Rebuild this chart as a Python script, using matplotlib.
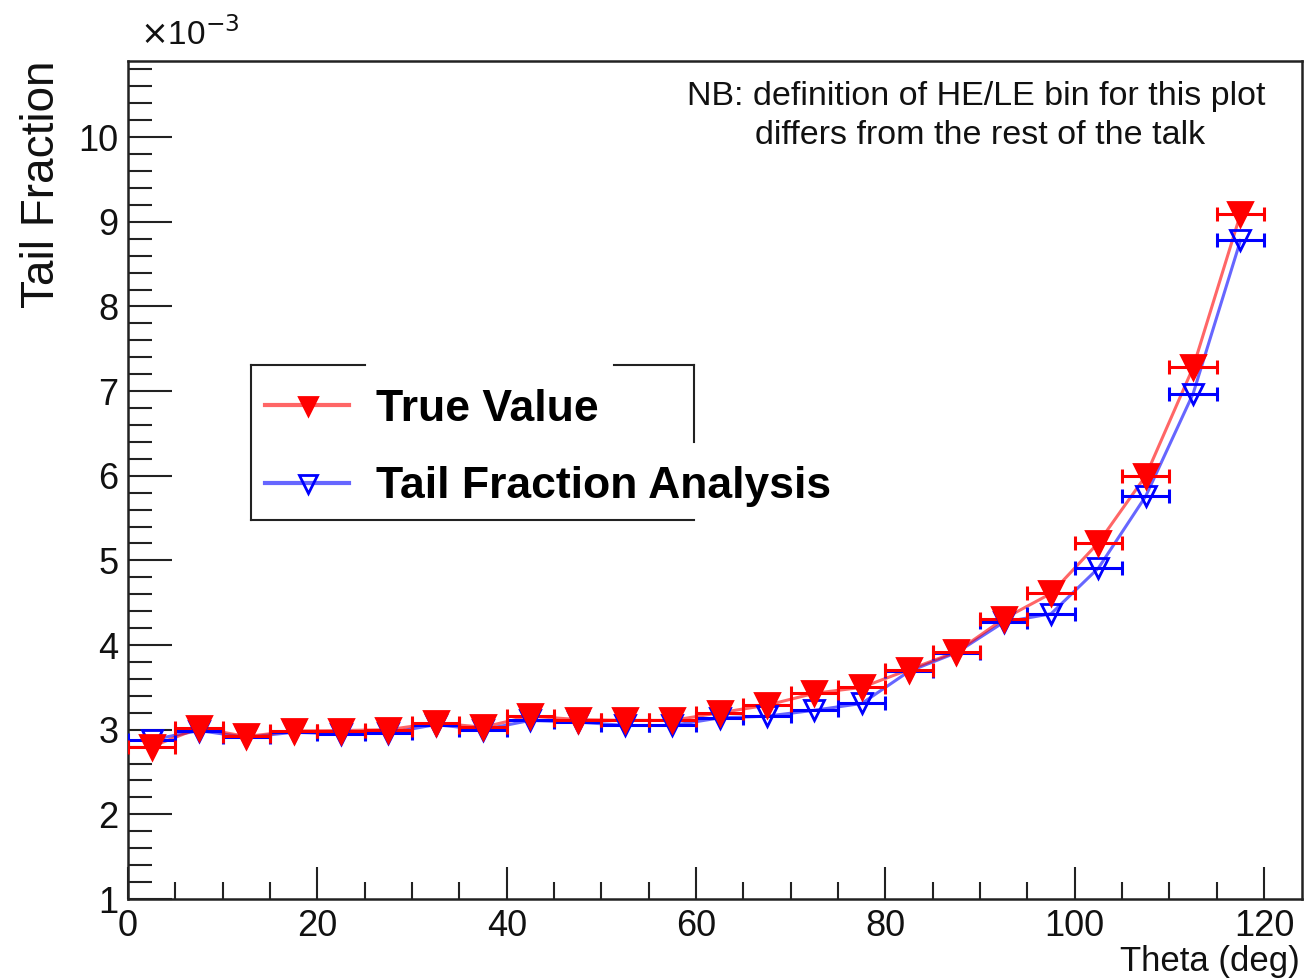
"""
Tail fraction vs theta: true value compared with the tail fraction analysis.
ROOT-style look (inward ticks on left/bottom only, x errors = half bin width).
"""
import matplotlib
matplotlib.use("Agg")
import matplotlib.pyplot as plt
from matplotlib.lines import Line2D
from matplotlib.ticker import MultipleLocator, FormatStrFormatter

plt.rcParams["font.family"] = ["Liberation Sans", "DejaVu Sans"]

# bin centres (deg), bin half-width 2.5 deg
theta = [2.5, 7.5, 12.5, 17.5, 22.5, 27.5, 32.5, 37.5, 42.5, 47.5, 52.5, 57.5,
         62.5, 67.5, 72.5, 77.5, 82.5, 87.5, 92.5, 97.5, 102.5, 107.5, 112.5, 117.5]
theta_err = [2.5] * len(theta)

# tail fraction, units of 1e-3
true_value = [2.80, 3.02, 2.92, 2.985, 2.99, 3.00, 3.08, 3.03, 3.16, 3.12, 3.11, 3.11,
              3.20, 3.29, 3.43, 3.50, 3.71, 3.92, 4.31, 4.61, 5.21, 6.00, 7.28, 9.09]
tf_analysis = [2.88, 2.99, 2.91, 2.97, 2.95, 2.96, 3.06, 3.00, 3.11, 3.09, 3.05, 3.05,
               3.14, 3.16, 3.23, 3.31, 3.69, 3.91, 4.27, 4.37, 4.91, 5.76, 6.97, 8.78]

W, H = 1310, 980
fig = plt.figure(figsize=(W / 100, H / 100), dpi=100)
ax = fig.add_axes([128 / W, 1 - 899 / H, (1302 - 128) / W, (899 - 61) / H])

series = [
    (tf_analysis, "blue", "none", 15, "Tail Fraction Analysis"),
    (true_value, "red", "red", 17, "True Value"),
]
for vals, col, face, ms, lab in series:
    ax.errorbar(theta, vals, xerr=theta_err, fmt="none", ecolor=col,
                elinewidth=2.2, capsize=5, capthick=2.2, zorder=3)
    ax.plot(theta, vals, color=col, lw=2.2, alpha=0.6, zorder=2)
    ax.plot(theta, vals, ls="none", marker="v", ms=ms, mfc=face, mec=col,
            mew=2, zorder=4)

ax.set_xlim(0, 124)
ax.set_ylim(1, 10.9)

ax.xaxis.set_major_locator(MultipleLocator(20))
ax.xaxis.set_minor_locator(MultipleLocator(5))
ax.yaxis.set_major_locator(MultipleLocator(1))
ax.yaxis.set_minor_locator(MultipleLocator(0.2))
ax.yaxis.set_major_formatter(FormatStrFormatter("%d"))
ax.tick_params(axis="both", which="both", direction="in", top=False, right=False,
               width=1.5, colors="#222222", labelcolor="#111111", labelsize=26)
ax.tick_params(axis="x", which="major", length=23, pad=7)
ax.tick_params(axis="x", which="minor", length=12)
ax.tick_params(axis="y", which="major", length=32, pad=7)
ax.tick_params(axis="y", which="minor", length=17)
for sp in ax.spines.values():
    sp.set_linewidth(1.8)
    sp.set_color("#222222")

fig.text(140 / W, 1 - 35 / H, r"$\times$10$^{-3}$", fontsize=24, va="center",
         ha="left", color="#111111")
fig.text(42 / W, 1 - 61 / H, "Tail Fraction", rotation=90, ha="center", va="top",
         fontsize=33, color="#111111")
fig.text(1300 / W, 1 - 961 / H, "Theta (deg)", ha="right", va="center",
         fontsize=25, color="#111111")
fig.text(976 / W, 1 - 96 / H, "NB: definition of HE/LE bin for this plot",
         ha="center", va="center", fontsize=24.5, color="#111111")
fig.text(980 / W, 1 - 135 / H, "differs from the rest of the talk",
         ha="center", va="center", fontsize=24.5, color="#111111")

# legend, drawn without frame; the box is drawn separately (text spills over it)
leg_handles = [Line2D([], [], color="red", lw=3, alpha=0.6),
               Line2D([], [], color="blue", lw=3, alpha=0.6)]
fig.legend(leg_handles, ["True Value", "Tail Fraction Analysis"],
           loc="upper left", bbox_to_anchor=(265 / W, 1 - 389 / H),
           frameon=False, borderpad=0, borderaxespad=0, handlelength=1.9,
           handletextpad=0.6, labelspacing=0.82,
           prop={"weight": "bold", "size": 32})
# markers in the middle of the legend lines
for y, col, face in [(406, "red", "red"), (484, "blue", "none")]:
    fig.add_artist(Line2D([308 / W], [1 - y / H], marker="v", ms=13, mfc=face,
                          mec=col, mew=2, ls="none", transform=fig.transFigure))

box = [((251, 365), (251, 520)), ((251, 520), (694, 520)), ((251, 365), (365, 365)),
       ((614, 365), (694, 365)), ((694, 365), (694, 442))]
for (x0, y0), (x1, y1) in box:
    fig.add_artist(Line2D([x0 / W, x1 / W], [1 - y0 / H, 1 - y1 / H], color="#222222",
                          lw=1.5, transform=fig.transFigure))

fig.savefig("out.png", dpi=100)
